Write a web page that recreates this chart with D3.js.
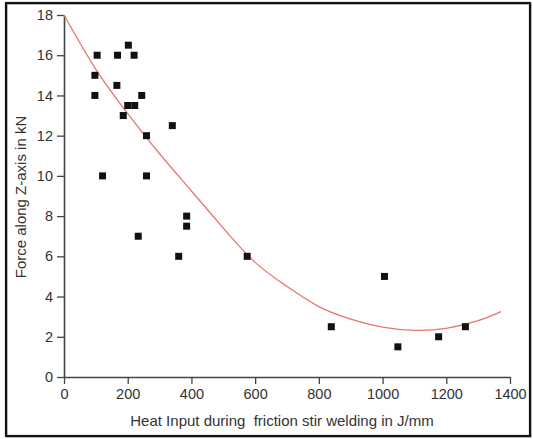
<!DOCTYPE html>
<html><head><meta charset="utf-8">
<script src="https://cdn.jsdelivr.net/npm/d3@7"></script>
<style>html,body{margin:0;padding:0;background:#fff}svg{display:block}</style>
</head><body>
<svg id="c" width="533" height="439"></svg>
<script>
// Data
const heatInput = [97, 97, 104, 121, 168, 166, 202, 220, 186, 200, 222, 244, 259, 259, 340, 233, 360, 385, 385, 575, 839, 1006, 1048, 1176, 1260];
const forceZ    = [14, 15, 16, 10, 16, 14.5, 16.5, 16, 13, 13.5, 13.5, 14, 12, 10, 12.5, 7, 6, 8, 7.5, 6, 2.5, 5, 1.5, 2, 2.5];
// fitted curve
const fitX = [0, 100, 200, 300, 400, 500, 600, 700, 800, 900, 1000, 1100, 1200, 1300, 1372];
const fitY = [18, 15.3, 13.1, 11.1, 9.25, 7.4, 5.7, 4.5, 3.5, 2.88, 2.48, 2.32, 2.42, 2.8, 3.25];
const xTicks = [0, 200, 400, 600, 800, 1000, 1200, 1400];
const yTicks = [0, 2, 4, 6, 8, 10, 12, 14, 16, 18];
const xTitle = "Heat Input during\u00a0 friction stir welding in J/mm";
const yTitle = "Force along Z-axis in kN";

const svg = d3.select("#c");
const font = "'Liberation Sans', Arial, sans-serif";

// outer frame
svg.append("rect").attr("x", 7).attr("y", 4).attr("width", 524).attr("height", 433)
  .attr("fill", "none").attr("stroke", "#bbb").attr("stroke-width", 1.5);
svg.append("rect").attr("x", 6).attr("y", 3).attr("width", 524).attr("height", 433)
  .attr("fill", "none").attr("stroke", "#111").attr("stroke-width", 2.2);

const x = d3.scaleLinear().domain([0, 1400]).range([64, 510]);
const y = d3.scaleLinear().domain([0, 18]).range([377, 15]);

const axisColor = "#444";
// minor ticks
const gx = svg.append("g").attr("transform", `translate(0,${y(0)})`);
gx.call(d3.axisBottom(x).tickValues(d3.range(100, 1400, 200)).tickSize(4).tickFormat(""));
gx.call(d3.axisBottom(x).tickValues(xTicks).tickSize(7).tickSizeOuter(0).tickPadding(4).tickFormat(d3.format("d")));
const gy = svg.append("g").attr("transform", `translate(${x(0)},0)`);
gy.call(d3.axisLeft(y).tickValues(d3.range(1, 18, 2)).tickSize(4).tickFormat(""));
gy.call(d3.axisLeft(y).tickValues(yTicks).tickSize(7).tickSizeOuter(0).tickPadding(4).tickFormat(d3.format("d")));

[gx, gy].forEach(g => {
  g.selectAll(".domain").attr("stroke", axisColor).attr("stroke-width", 1.6);
  g.selectAll(".tick line").attr("stroke", axisColor).attr("stroke-width", 1.3);
  g.selectAll("text").attr("fill", "#333").style("font-family", font).style("font-size", "14.5px");
});
gx.selectAll("text").attr("dy", "0.75em");

// fitted curve
const fitPts = fitX.map((v, i) => [v, fitY[i]]);
svg.append("path").datum(fitPts)
  .attr("d", d3.line().x(d => x(d[0])).y(d => y(d[1])).curve(d3.curveNatural))
  .attr("fill", "none").attr("stroke", "#e6776c").attr("stroke-width", 1.3);

// points
const s = 7;
svg.append("g").selectAll("rect").data(heatInput.map((v, i) => [v, forceZ[i]])).join("rect")
  .attr("x", d => x(d[0]) - s / 2).attr("y", d => y(d[1]) - s / 2)
  .attr("width", s).attr("height", s).attr("fill", "#111");

// titles
svg.append("text").attr("x", 282).attr("y", 426).attr("text-anchor", "middle")
  .attr("fill", "#333").style("font-family", font).style("font-size", "15px").text(xTitle);
svg.append("text").attr("transform", "translate(26,197) rotate(-90)").attr("text-anchor", "middle")
  .attr("fill", "#333").style("font-family", font).style("font-size", "15px").text(yTitle);
</script>
</body></html>
